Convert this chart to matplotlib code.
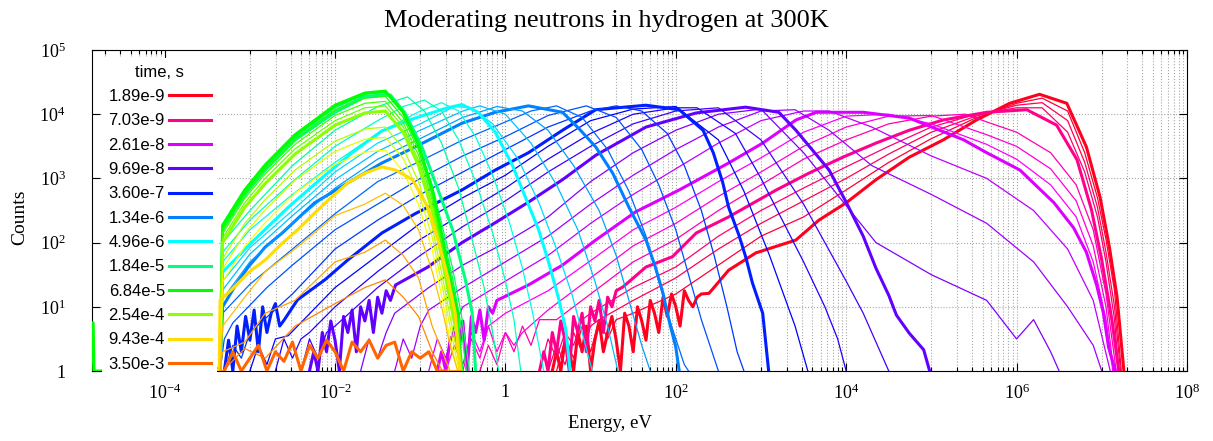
import colorsys
import matplotlib
matplotlib.use('Agg')
import matplotlib.pyplot as plt
import matplotlib.ticker as mticker
import numpy as np

plt.rcParams['mathtext.fontset'] = 'custom'
plt.rcParams['mathtext.rm'] = 'Liberation Serif'
plt.rcParams['mathtext.it'] = 'Liberation Serif:italic'

# times shown in the key (s); the key marks every fourth curve
times = ['1.89e-9', '7.03e-9', '2.61e-8', '9.69e-8', '3.60e-7', '1.34e-6',
         '4.96e-6', '1.84e-5', '6.84e-5', '2.54e-4', '9.43e-4', '3.50e-3']

# curves: log10(energy / eV) and log10(counts)
e0 = [0.55, 0.6, 0.65, 0.7, 0.75, 0.8, 0.85, 0.9, 0.95, 1.0, 1.05, 1.1, 1.15, 1.2, 1.25, 1.3,
      1.35, 1.4, 1.45, 1.5, 1.55, 1.6, 1.65, 1.7, 1.75, 1.8, 1.85, 1.9, 1.95, 2.0, 2.05, 2.1,
      2.15, 2.2, 2.25, 2.3, 2.39, 2.62, 2.94, 3.41, 3.68, 4.0, 4.35, 4.74, 5.14, 5.53, 5.92,
      6.27, 6.59, 6.82, 6.98, 7.09, 7.18, 7.26]
c0 = [0, 0.3, 0, 0.48, 0.3, 0, 0.6, 0.3, 0.7, 0, 0.48, 0.78, 0.3, 0.6, 0.85, 0.48,
      0, 0.9, 0.7, 0.3, 1.0, 0.78, 0.48, 1.1, 0.9, 0.6, 1.15, 0.85, 1.2, 1.0, 0.7, 1.25,
      1.1, 1.0, 1.15, 1.2, 1.21, 1.57, 1.84, 2.04, 2.35, 2.62, 2.98, 3.33, 3.60, 3.91, 4.17,
      4.31, 4.17, 3.49, 2.71, 1.93, 1.15, 0]
e1 = [0.6, 0.7, 0.8, 0.9, 1.0, 1.1, 1.2, 1.3, 1.5, 2.0, 2.5, 3.0, 3.5, 4.0, 4.5, 5.0, 5.5,
      6.0, 6.3, 6.6, 6.8, 6.95, 7.05, 7.15, 7.23]
c1 = [0, 0.5, 0.2, 0.7, 0.3, 0.8, 0.5, 0.8, 0.9, 1.2, 1.65, 2.1, 2.4, 2.82, 3.25, 3.62, 3.93,
      4.17, 4.25, 4.05, 3.4, 2.7, 2.05, 1.25, 0]
e2 = [0.5, 0.6, 0.7, 0.8, 0.9, 1.0, 1.1, 1.5, 2.0, 2.5, 3.0, 3.5, 4.0, 4.5, 5.0, 5.5, 6.0,
      6.3, 6.6, 6.8, 6.95, 7.05, 7.15, 7.22]
c2 = [0, 0.4, 0.1, 0.6, 0.3, 0.7, 0.8, 1.1, 1.45, 1.9, 2.3, 2.65, 3.0, 3.38, 3.72, 3.96, 4.14,
      4.18, 3.9, 3.25, 2.55, 1.85, 1.0, 0]
e3 = [0.4, 0.5, 0.6, 0.7, 0.8, 0.9, 1.0, 1.5, 2.0, 2.5, 3.0, 3.5, 4.0, 4.5, 5.0, 5.5, 6.0,
      6.3, 6.6, 6.8, 6.95, 7.05, 7.15, 7.2]
c3 = [0, 0.5, 0.2, 0.6, 0.4, 0.8, 0.9, 1.3, 1.62, 2.1, 2.5, 2.85, 3.18, 3.5, 3.8, 3.99, 4.1,
      4.1, 3.72, 3.1, 2.4, 1.7, 0.8, 0]
e4 = [0.4, 0.45, 0.5, 0.55, 0.6, 0.65, 0.7, 0.75, 0.8, 0.85, 0.9, 0.95, 1.0, 1.05, 1.1,
      1.15, 1.2, 1.25, 1.3, 1.38, 1.65, 1.96, 2.24, 2.62, 3.18, 3.56,
      3.96, 4.35, 4.74, 5.14, 5.65, 6.12, 6.47, 6.71, 6.88, 7.0, 7.12, 7.2]
c4 = [0, 0.3, 0, 0.6, 0.3, 0.78, 0.48, 0, 0.85, 0.6, 0.9, 0.3, 1.0, 0.78, 1.1,
      0.6, 1.15, 1.0, 1.25, 1.31, 1.62, 1.78, 2.15, 2.40, 2.82, 3.08,
      3.33, 3.55, 3.75, 3.91, 4.03, 4.07, 3.83, 3.29, 2.51, 1.73, 0.79, 0]
e5 = [-0.3, -0.2, -0.1, 0.0, 0.1, 0.2, 0.3, 0.4, 0.6, 1.0, 1.5, 2.0, 2.5, 3.0, 3.5, 4.0, 4.5,
      5.0, 5.4, 5.65, 6.0, 6.4, 6.7, 6.9, 7.05, 7.17]
c5 = [0, 0.4, 0.1, 0.6, 0.3, 0.7, 0.4, 0.8, 0.8, 1.2, 1.7, 2.05, 2.5, 2.9, 3.3, 3.6, 3.85,
      3.97, 4.0, 3.88, 3.72, 3.4, 2.9, 2.2, 1.2, 0]
e6 = [-0.5, -0.4, -0.3, -0.2, -0.1, 0.0, 0.1, 0.2, 0.5, 1.0, 1.5, 2.0, 2.5, 3.0, 3.5, 4.0,
      4.5, 5.0, 5.65, 6.0, 6.4, 6.7, 6.9, 7.05, 7.14]
c6 = [0, 0.5, 0.2, 0.7, 0.3, 0.6, 0.4, 0.6, 0.95, 1.45, 1.95, 2.3, 2.72, 3.1, 3.5, 3.8,
      3.97, 3.98, 3.68, 3.5, 3.15, 2.65, 1.95, 1.0, 0]
e7 = [-0.7, -0.6, -0.5, -0.4, -0.3, -0.2, 0.0, 0.5, 1.0, 1.5, 2.0, 2.5, 3.0, 3.5, 4.0, 4.5,
      5.0, 5.65, 6.0, 6.4, 6.7, 6.9, 7.05, 7.13]
c7 = [0, 0.4, 0.1, 0.6, 0.3, 0.7, 0.9, 1.25, 1.72, 2.2, 2.55, 2.95, 3.32, 3.72, 3.97, 4.0,
      3.85, 3.53, 3.3, 2.9, 2.4, 1.7, 0.8, 0]
e8 = [-0.8, -0.75, -0.7, -0.65, -0.6, -0.55, -0.5, -0.45, -0.4, -0.35, -0.3, -0.25, -0.2,
      -0.15, -0.1, 0.27, 0.67, 1.06, 1.53, 2.04, 2.62, 3.02,
      3.41, 3.65, 4.2, 4.74, 5.38, 5.65, 6.04, 6.44, 6.67, 6.82, 6.94, 7.02, 7.08, 7.16]
c8 = [0, 0.3, 0, 0.48, 0.6, 0.3, 0.78, 0, 0.85, 0.6, 0.95, 0.48, 1.0, 0.9, 1.1,
      1.34, 1.65, 2.04, 2.48, 2.82, 3.24, 3.55,
      3.91, 4.03, 4.03, 3.94, 3.6, 3.40, 3.13, 2.62, 2.23, 1.85, 1.34, 0.9, 0.37, 0]
e9 = [-0.9, -0.8, -0.7, -0.6, -0.5, 0.0, 0.5, 1.0, 1.5, 2.0, 2.5, 3.0, 3.5, 3.8, 4.3, 5.0,
      5.65, 6.2, 6.6, 6.9, 7.1]
c9 = [0, 0.5, 0.2, 0.7, 1.0, 1.4, 1.8, 2.3, 2.75, 3.15, 3.55, 3.9, 4.05, 4.05, 3.8, 3.35,
      3.0, 2.5, 1.9, 1.1, 0]
e10 = [-1.3, -1.2, -1.1, -1.0, -0.9, -0.5, 0.0, 0.5, 1.0, 1.5, 2.0, 2.5, 3.0, 3.4, 3.8, 4.3,
       5.0, 5.65, 6.2, 6.6, 6.9, 7.0]
c10 = [0, 0.5, 0.2, 0.7, 0.95, 1.3, 1.7, 2.1, 2.6, 3.05, 3.45, 3.8, 4.05, 4.07, 3.75, 3.2,
       2.75, 2.3, 1.7, 1.0, 0.4, 0]
e11 = [-1.7, -1.6, -1.5, -1.4, -1.3, -0.9, -0.5, 0.0, 0.5, 1.0, 1.5, 2.0, 2.5, 3.0, 3.5,
       4.35, 5.0, 5.65, 6.0, 6.2, 6.4, 6.5]
c11 = [0, 0.5, 0.2, 0.6, 0.9, 1.3, 1.65, 2.0, 2.4, 2.95, 3.4, 3.75, 4.0, 4.08, 3.4,
       2.0, 1.5, 1.1, 0.5, 0.8, 0.3, 0]
e12 = [-2.3, -2.25, -2.2, -2.15, -2.1, -2.05, -2.0, -1.95, -1.9, -1.85, -1.8, -1.75, -1.7,
       -1.65, -1.6, -1.55, -1.5, -1.45, -1.4, -1.35, -1.29, -0.91, -0.51, -0.12, 0.27,
       0.67, 1.06, 1.65, 2.24, 2.82, 3.21, 3.41, 3.8, 4.0, 4.2, 4.35, 4.5, 4.59, 4.74,
       4.91, 4.98]
c12 = [0, 0.3, 0, 0.6, 0.3, 0.78, 0.48, 0, 0.85, 0.6, 0.95, 0.3, 1.0, 0.78, 1.1, 0.6,
       1.15, 0.9, 1.25, 1.1, 1.34, 1.62, 2.0, 2.31, 2.63,
       2.98, 3.36, 3.80, 4.02, 4.11, 4.03, 3.75, 3.13, 2.63, 2.1, 1.6, 1.18, 0.87, 0.59,
       0.33, 0]
e13 = [-2.4, -2.3, -2.2, -2.1, -2.0, -1.5, -1.0, -0.5, 0.0, 0.5, 1.0, 1.5, 2.0, 2.5, 3.0,
       3.5, 4.0, 4.2, 4.4, 4.5]
c13 = [0, 0.5, 0.2, 0.6, 0.7, 1.3, 1.8, 2.25, 2.65, 3.1, 3.5, 3.85, 4.05, 4.1, 3.6,
       2.6, 1.4, 0.9, 0.3, 0]
e14 = [-2.7, -2.6, -2.5, -2.4, -2.3, -2.0, -1.5, -1.0, -0.5, 0.0, 0.5, 1.0, 1.5, 2.0, 2.25,
       2.7, 3.0, 3.5, 3.75, 3.9, 4.0]
c14 = [0, 0.5, 0.2, 0.5, 0.6, 1.0, 1.55, 2.05, 2.45, 2.85, 3.3, 3.7, 4.0, 4.1, 4.1,
       3.7, 3.0, 1.7, 1.0, 0.5, 0]
e15 = [-3.0, -2.9, -2.8, -2.7, -2.55, -2.0, -1.5, -1.0, -0.5, 0.0, 0.5, 1.0, 1.5, 2.0, 2.5,
       2.8, 3.1, 3.4, 3.55]
c15 = [0, 0.4, 0.1, 0.5, 0.55, 1.3, 1.8, 2.3, 2.7, 3.05, 3.5, 3.9, 4.08, 4.12, 3.6,
       2.8, 1.8, 0.7, 0]
e16 = [-3.3, -3.25, -3.2, -3.15, -3.1, -3.05, -3.0, -2.95, -2.9, -2.85, -2.8, -2.75, -2.7,
       -2.65, -2.6, -2.44, -2.12, -1.85, -1.45, -1.06,
       -0.51, -0.12, 0.27, 0.67, 1.06, 1.65, 2.04, 2.32, 2.44, 2.55, 2.62, 2.74, 2.82,
       2.9, 3.02, 3.09]
c16 = [0, 0.48, 0, 0.7, 0.3, 0.85, 0.48, 0.95, 0.3, 1.0, 0.6, 0.9, 1.05, 0.7, 0.79,
       1.11, 1.42, 1.73, 2.15, 2.45,
       2.82, 3.13, 3.4, 3.75, 4.07, 4.14, 4.07, 3.75, 3.4, 2.94, 2.55, 2.12, 1.78,
       1.37, 0.9, 0]
e17 = [-3.3, -3.2, -3.1, -3.0, -2.5, -2.0, -1.5, -1.0, -0.5, 0.0, 0.5, 1.0, 1.3, 1.6, 1.9,
       2.1, 2.3, 2.45, 2.6, 2.72, 2.8]
c17 = [0, 0.4, 0.2, 0.6, 1.2, 1.9, 2.35, 2.75, 3.1, 3.45, 3.8, 4.05, 4.13, 4.05, 3.7,
       3.2, 2.5, 1.8, 1.0, 0.3, 0]
e18 = [-3.35, -3.3, -3.2, -2.8, -2.5, -2.0, -1.5, -1.0, -0.5, 0.0, 0.5, 0.95, 1.3, 1.6, 1.8,
       2.0, 2.15, 2.3, 2.45, 2.5]
c18 = [0, 0.5, 0.75, 1.3, 1.65, 2.2, 2.6, 3.0, 3.35, 3.65, 3.98, 4.13, 3.95, 3.45, 2.9,
       2.2, 1.5, 0.8, 0.2, 0]
e19 = [-3.35, -3.32, -3.0, -2.5, -2.0, -1.5, -1.0, -0.5, 0.0, 0.3, 0.6, 0.9, 1.2, 1.45, 1.65,
       1.8, 1.95, 2.1, 2.15]
c19 = [0, 0.9, 1.35, 1.9, 2.45, 2.95, 3.27, 3.6, 3.88, 4.05, 4.13, 3.95, 3.45, 2.8, 2.1,
       1.4, 0.7, 0.1, 0]
e20 = [-3.35, -3.32, -3.18, -3.02, -2.82, -2.62, -2.24, -1.85, -1.45, -1.06, -0.51, -0.12,
       0.27, 0.67, 0.86, 1.06, 1.26, 1.45, 1.65, 1.76, 1.85, 1.92, 2.0, 2.04]
c20 = [0, 1.0, 1.31, 1.62, 1.93, 2.15, 2.62, 2.93, 3.24, 3.49, 3.86, 4.03,
       4.13, 4.03, 3.78, 3.49, 3.08, 2.55, 2.04, 1.62, 1.21, 0.79, 0.37, 0]
e21 = [-3.35, -3.32, -3.0, -2.5, -2.0, -1.5, -1.0, -0.5, -0.1, 0.2, 0.5, 0.8, 1.1, 1.3, 1.45,
       1.6, 1.7]
c21 = [0, 1.12, 1.7, 2.3, 2.85, 3.3, 3.62, 3.95, 4.12, 4.05, 3.75, 3.2, 2.5, 1.8, 1.1,
       0.4, 0]
e22 = [-3.35, -3.32, -3.0, -2.5, -2.0, -1.5, -1.0, -0.5, -0.3, 0.0, 0.3, 0.6, 0.85, 1.05, 1.2,
       1.32]
c22 = [0, 1.26, 1.82, 2.42, 2.98, 3.42, 3.75, 4.05, 4.13, 4.0, 3.55, 2.9, 2.2, 1.4, 0.7, 0]
e23 = [-3.35, -3.32, -3.0, -2.5, -2.0, -1.5, -1.0, -0.6, -0.4, -0.15, 0.15, 0.4, 0.6, 0.78,
       0.92, 1.02]
c23 = [0, 1.4, 1.92, 2.5, 3.1, 3.55, 3.85, 4.12, 4.1, 3.85, 3.3, 2.6, 1.9, 1.2, 0.5, 0]
e24 = [-3.35, -3.32, -2.95, -2.55, -2.17, -1.8, -1.45, -1.06, -0.68, -0.51, -0.32, -0.12,
       0.08, 0.27, 0.39, 0.51, 0.62, 0.71, 0.76]
c24 = [0, 1.54, 2.04, 2.55, 2.99, 3.4, 3.74, 3.94, 4.1, 4.15, 4.03, 3.72,
       3.21, 2.59, 2.2, 1.68, 1.15, 0.64, 0]
e25 = [-3.35, -3.32, -3.0, -2.5, -2.0, -1.5, -1.0, -0.75, -0.55, -0.35, -0.15, 0.05, 0.2,
       0.32, 0.42, 0.45]
c25 = [0, 1.7, 2.2, 2.75, 3.25, 3.7, 4.05, 4.18, 4.05, 3.65, 3.05, 2.3, 1.6, 0.9, 0.2, 0]
e26 = [-3.35, -3.32, -3.0, -2.5, -2.0, -1.5, -1.2, -0.95, -0.75, -0.55, -0.35, -0.15, 0.0,
       0.1, 0.18]
c26 = [0, 1.85, 2.35, 2.95, 3.5, 3.9, 4.12, 4.22, 4.05, 3.6, 2.95, 2.15, 1.4, 0.8, 0]
e27 = [-3.35, -3.32, -3.0, -2.5, -2.0, -1.5, -1.15, -0.95, -0.75, -0.55, -0.4, -0.25, -0.15,
       -0.08]
c27 = [0, 2.0, 2.5, 3.2, 3.75, 4.12, 4.27, 4.05, 3.55, 2.85, 2.1, 1.3, 0.6, 0]
e28 = [-3.35, -3.32, -3.06, -2.82, -2.47, -2.0, -1.65, -1.35, -1.18, -0.98, -0.79, -0.62,
       -0.47, -0.39, -0.35]
c28 = [0, 2.2, 2.74, 3.13, 3.6, 4.03, 4.27, 4.3, 4.02, 3.49, 2.82, 2.2, 1.42, 0.9, 0]
e29 = [-3.35, -3.32, -3.06, -2.82, -2.47, -2.0, -1.65, -1.38, -1.2, -1.02, -0.86, -0.74,
       -0.62, -0.52, -0.42]
c29 = [0, 2.22, 2.76, 3.15, 3.62, 4.07, 4.29, 4.32, 4.03, 3.52, 2.9, 2.25, 1.6, 0.9, 0]
e30 = [-3.35, -3.32, -3.06, -2.82, -2.47, -2.0, -1.65, -1.39, -1.2, -1.02, -0.86, -0.74,
       -0.62, -0.52, -0.46]
c30 = [0, 2.24, 2.78, 3.17, 3.64, 4.1, 4.31, 4.34, 4.03, 3.52, 2.86, 2.15, 1.45, 0.7, 0]
e31 = [-3.35, -3.32, -3.06, -2.82, -2.47, -2.0, -1.65, -1.4, -1.2, -1.02, -0.86, -0.74,
       -0.62, -0.54, -0.5]
c31 = [0, 2.26, 2.8, 3.19, 3.66, 4.12, 4.32, 4.35, 4.03, 3.52, 2.84, 2.08, 1.35, 0.6, 0]
e32 = [-4.87, -4.86, -4.84, -4.83, -4.7, -4.65, -4.5, -4.45, -4.3, -4.2, -4.1, -4.0, -3.85,
       -3.8, -3.7, -3.6, -3.5, -3.45, -3.35, -3.32, -3.06, -2.82, -2.47, -2.0, -1.65, -1.41,
       -1.2, -1.02, -0.86, -0.74, -0.65, -0.56, -0.53]
c32 = [0, 0.75, 0.75, 0, 0, 0.08, 0, 0.1, 0, 0.06, 0, 0.1, 0, 0.08, 0, 0.12, 0, 0.1,
       0, 2.27, 2.82, 3.21, 3.68, 4.14, 4.33, 4.36,
       4.03, 3.52, 2.82, 2.04, 1.42, 0.9, 0]
# late curves share one energy list
e_th = [-3.35, -3.32, -3.06, -2.82, -2.47, -2.0, -1.65, -1.41, -1.2, -1.02, -0.86, -0.74,
        -0.65, -0.56, -0.52]
c33 = [0, 2.2, 2.75, 3.14, 3.6, 4.06, 4.25, 4.28, 3.95, 3.44, 2.74, 1.96, 1.34, 0.8, 0]
c34 = [0, 2.14, 2.69, 3.07, 3.53, 3.98, 4.17, 4.2, 3.87, 3.36, 2.66, 1.88, 1.26, 0.7, 0]
c35 = [0, 2.07, 2.62, 3.0, 3.46, 3.9, 4.1, 4.13, 3.8, 3.28, 2.58, 1.8, 1.18, 0.6, 0]
c36 = [0, 2.0, 2.55, 2.92, 3.38, 3.83, 4.02, 4.05, 3.72, 3.2, 2.5, 1.72, 1.1, 0.5, 0]
c37 = [0, 1.75, 2.3, 2.67, 3.13, 3.58, 3.77, 3.8, 3.47, 2.95, 2.25, 1.47, 0.85, 0.25, 0]
c38 = [0, 1.59, 2.14, 2.51, 2.97, 3.42, 3.61, 3.64, 3.31, 2.79, 2.09, 1.31, 0.69, 0.1, 0]
c39 = [0, 1.39, 1.94, 2.31, 2.77, 3.22, 3.41, 3.44, 3.11, 2.59, 1.89, 1.11, 0.49, 0, 0]
e40 = [-4.5, -4.45, -4.2, -4.15, -3.9, -3.85, -3.6, -3.55, -3.36, -3.35, -3.18, -3.02,
       -2.82, -2.62, -2.44, -2.24, -2.04, -1.85, -1.65, -1.45,
       -1.29, -1.09, -0.91, -0.79, -0.67, -0.59, -0.56, -0.53]
c40 = [0, 0.1, 0, 0.08, 0, 0.12, 0, 0.08, 0, 1.1, 1.31, 1.53,
       1.73, 1.99, 2.2, 2.46, 2.71, 2.93, 3.08, 3.18,
       3.13, 2.98, 2.55, 2.04, 1.42, 0.9, 0.37, 0]
c41 = [0, 0.7, 1.15, 1.55, 1.9, 2.42, 2.6, 2.77, 2.58, 2.2, 1.55, 0.95, 0.4, 0, 0]
c42 = [0, 0.3, 0.45, 0.9, 1.1, 1.7, 1.85, 2.04, 1.8, 1.45, 0.7, 0.3, 0, 0, 0]
c43 = [0, 0, 0.35, 0.2, 0.7, 1.05, 1.3, 1.42, 1.15, 0.85, 0.3, 0, 0, 0, 0]
e44 = [-3.3, -3.2, -3.1, -3.0, -2.9, -2.8, -2.7, -2.6, -2.5, -2.4, -2.3, -2.2, -2.1, -2.0,
       -1.9, -1.8, -1.7, -1.6, -1.5, -1.4, -1.3, -1.2, -1.1, -1.0, -0.9, -0.8, -0.7]
c44 = [0, 0.3, 0, 0.2, 0.4, 0, 0.3, 0.15, 0.45, 0, 0.4, 0.2, 0.48, 0.3, 0,
       0.45, 0.3, 0.48, 0.2, 0.4, 0.45, 0, 0.3, 0.2, 0.3, 0, 0]

all_logE = [e0, e1, e2, e3, e4, e5, e6, e7, e8, e9, e10, e11, e12, e13, e14, e15, e16, e17,
            e18, e19, e20, e21, e22, e23, e24, e25, e26, e27, e28, e29, e30, e31, e32,
            e_th, e_th, e_th, e_th, e_th, e_th, e_th, e40, e_th, e_th, e_th, e44]
all_logC = [c0, c1, c2, c3, c4, c5, c6, c7, c8, c9, c10, c11, c12, c13, c14, c15, c16, c17,
            c18, c19, c20, c21, c22, c23, c24, c25, c26, c27, c28, c29, c30, c31, c32,
            c33, c34, c35, c36, c37, c38, c39, c40, c41, c42, c43, c44]

# hue (degrees) of the twelve key colours; the thin curves sit in between
key_hues = [353, 327, 292, 263, 233, 210, 180, 150, 120, 87, 52, 24]


def curve_colour(j):
    k, r = divmod(j, 4)
    if k >= len(key_hues) - 1:
        h = key_hues[-1]
    else:
        h = key_hues[k] + (key_hues[k + 1] - key_hues[k]) * r / 4.0
    return colorsys.hsv_to_rgb((h % 360) / 360.0, 1.0, 1.0)


fig = plt.figure(figsize=(12.13, 4.41), dpi=100)
ax = fig.add_axes([0.0758, 0.1587, 0.9027, 0.7279])

handles = []
for j in range(len(all_logE)):
    x = 10 ** np.array(all_logE[j])
    y = 10 ** np.array(all_logC[j])
    thick = (j % 4 == 0)
    ln, = ax.plot(x, y, color=curve_colour(j), lw=2.2 if thick else 0.9,
                  zorder=3 + 0.01 * j)
    if thick:
        handles.append(ln)

ax.set_xscale('log')
ax.set_yscale('log')
ax.set_xlim(1.4e-5, 1e8)
ax.set_ylim(1, 1e5)


def pow_label(v, pos):
    e = int(round(np.log10(v)))
    if e == 0:
        return '1'
    return '$10^{%d}$' % e


ax.xaxis.set_major_locator(mticker.FixedLocator([1e-4, 1e-2, 1, 1e2, 1e4, 1e6, 1e8]))
minor_x = [10.0 ** (2 * k) * m for k in range(-3, 4) for m in range(10, 100, 10)]
ax.xaxis.set_minor_locator(mticker.FixedLocator(minor_x))
ax.xaxis.set_minor_formatter(mticker.NullFormatter())
ax.xaxis.set_major_formatter(mticker.FuncFormatter(pow_label))
ax.yaxis.set_major_locator(mticker.FixedLocator([1, 10, 1e2, 1e3, 1e4, 1e5]))
ax.yaxis.set_minor_locator(mticker.NullLocator())
ax.yaxis.set_major_formatter(mticker.FuncFormatter(pow_label))

ax.tick_params(which='both', direction='in', top=True, right=True, width=0.8)
ax.tick_params(which='major', length=6, labelsize=13)
ax.tick_params(axis='x', which='major', pad=9)
ax.tick_params(axis='y', which='major', pad=19)
ax.tick_params(which='minor', length=3)
for lab in ax.get_xticklabels() + ax.get_yticklabels():
    lab.set_family('Liberation Serif')

ax.grid(which='both', axis='x', ls=':', lw=0.8, color='#a8a8a8')
ax.grid(which='major', axis='y', ls=':', lw=0.8, color='#a8a8a8')
ax.set_axisbelow(True)

fig.text(0.5, 1 - 27 / 441, 'Moderating neutrons in hydrogen at 300K', ha='center',
         va='baseline', family='Liberation Serif', fontsize=19)
fig.text(610 / 1213, 1 - 428 / 441, 'Energy, eV', ha='center', va='baseline',
         family='Liberation Serif', fontsize=13.5)
fig.text(20 / 1213, 1 - 217 / 441, 'Counts', ha='center', va='center', rotation=90,
         family='Liberation Serif', fontsize=14)

leg = ax.legend(handles, times, loc='upper left', bbox_to_anchor=(0.009, 0.975),
                borderaxespad=0, title='time, s', markerfirst=False,
                frameon=True, fancybox=False, framealpha=1, edgecolor='none',
                prop={'family': 'Liberation Sans', 'size': 12},
                handlelength=2.5, handletextpad=0.25, labelspacing=0.56)
leg.get_title().set_family('Liberation Sans')
leg.get_title().set_fontsize(12)
leg.set_zorder(100)

fig.savefig('out.png', dpi=100)
